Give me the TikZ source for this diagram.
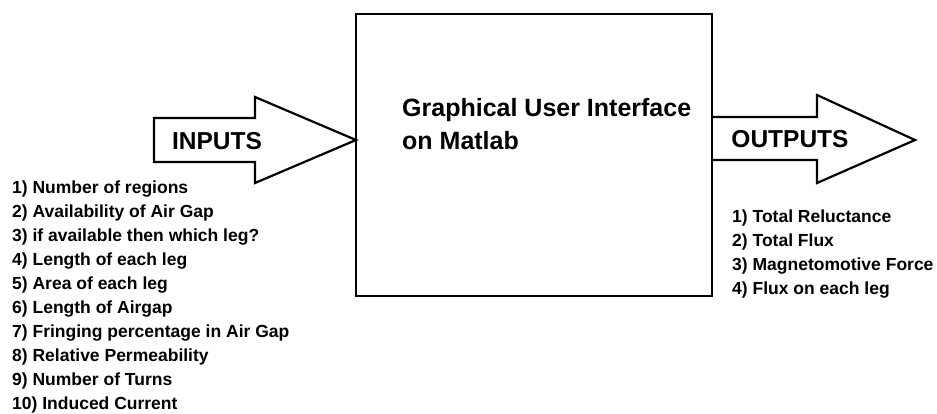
\documentclass[tikz,border=0pt]{standalone}
\usepackage{fontspec}
\setmainfont{Liberation Sans}
\tikzset{
  blockline/.style={line width=2.6pt, line join=miter},
  arrowline/.style={line width=2.2pt, line join=miter},
  headtext/.style={inner sep=0pt, font=\fontsize{24.5}{30}\selectfont\bfseries},
  listtext/.style={inner sep=0pt, align=left, anchor=north west,
    font=\fontsize{17.5}{24}\selectfont\bfseries}
}
\begin{document}
\begin{tikzpicture}[x=1pt,y=-1pt]
      \useasboundingbox (0,0) rectangle (937,413);
      % main block
      \draw[blockline] (356,14) rectangle (712,296);
      \coordinate (gui) at (356,140);
      \node[headtext, anchor=base west, align=left,
            font=\fontsize{25}{33}\selectfont\bfseries] (guitext) at (402,149)
            {Graphical User Interface\\on Matlab};
      % input arrow
      \draw[arrowline] (154,118) -- (255,118) -- (255,97) -- (gui)
            -- (255,183) -- (255,162) -- (154,162) -- cycle;
      \node[headtext, anchor=base] (inputs) at (217,149) {INPUTS};
      % output arrow
      \coordinate (guiout) at (712,117);
      \draw[arrowline] (guiout) -- (817,117) -- (817,95) -- (915,140)
            -- (817,183) -- (817,160) -- (713,160);
      \node[headtext, anchor=base] (outputs) at (790,147) {OUTPUTS};
      % lists
      \node[listtext] (inlist) at (12,181) {1) Number of regions\\
            2) Availability of Air Gap\\
            3) if available then which leg?\\
            4) Length of each leg\\
            5) Area of each leg\\
            6) Length of Airgap\\
            7) Fringing percentage in Air Gap\\
            8) Relative Permeability\\
            9) Number of Turns\\
            10) Induced Current};
      \node[listtext] (outlist) at (732,210) {1) Total Reluctance\\
            2) Total Flux\\
            3) Magnetomotive Force\\
            4) Flux on each leg};
    \end{tikzpicture}
\end{document}
